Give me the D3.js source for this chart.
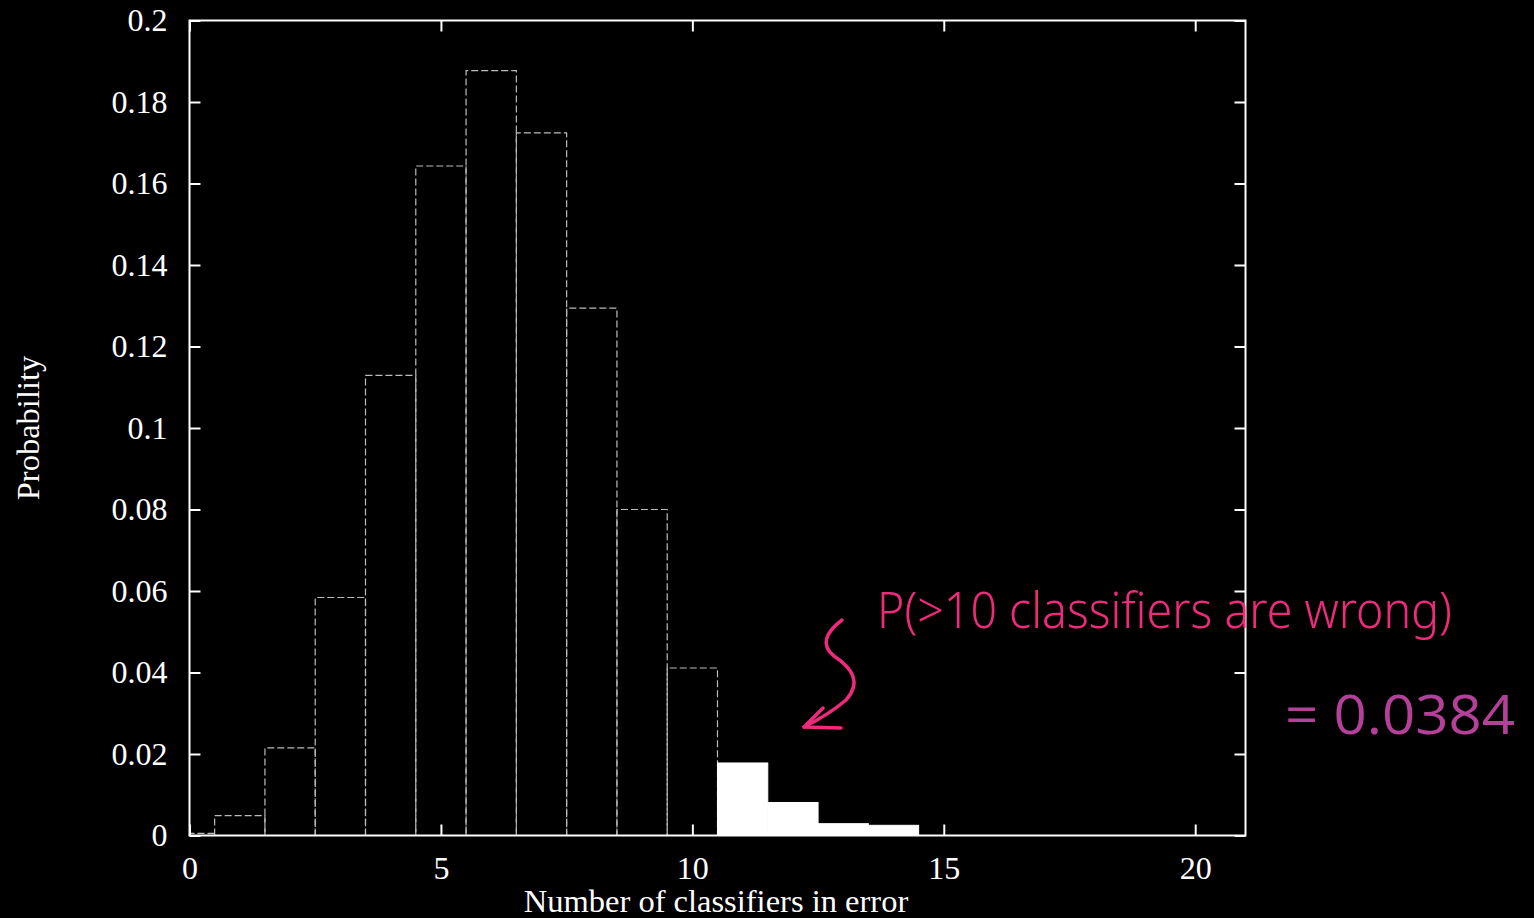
<!DOCTYPE html>
<html><head><meta charset="utf-8">
<script src="https://cdn.jsdelivr.net/npm/d3@7"></script>
<style>html,body{margin:0;padding:0;background:#000;}svg{display:block;}</style>
</head><body>
<script>
const counts = [0,1,2,3,4,5,6,7,8,9,10,11,12,13,14];
const probs = [0.0005,0.0049,0.0215,0.0584,0.1129,0.1643,0.1877,0.1724,0.1294,0.0800,0.0411,0.0178,0.0081,0.0029,0.0025];
const highlightFrom = 11;
const xTicks = [0,5,10,15,20];
const yTicks = [0,0.02,0.04,0.06,0.08,0.1,0.12,0.14,0.16,0.18,0.2];
const annotationText = "P(>10 classifiers are wrong)";
const resultText = "= 0.0384";

const W = 1534, H = 918;
const svg = d3.select("body").append("svg").attr("width", W).attr("height", H).style("background","#000");
const L = 189.5, R = 1245.5, T = 20.5, B = 835.5;
const x = d3.scaleLinear().domain([0,21]).range([L,R]);
const y = d3.scaleLinear().domain([0,0.2]).range([B,T]);

// bars
const bars = svg.append("g");
counts.forEach((c,i)=>{
  const x0 = x(Math.max(0,c-0.5)), x1 = x(c+0.5);
  const yt = y(probs[i]);
  if (c >= highlightFrom) {
    bars.append("rect").attr("x",x0).attr("y",yt).attr("width",x1-x0).attr("height",y(0)-yt)
      .attr("fill","#fff").attr("stroke","#fff").attr("stroke-width",1);
  } else {
    bars.append("path")
      .attr("d",`M${x0},${y(0)}V${yt}H${x1}V${y(0)}`)
      .attr("fill","none").attr("stroke","#bbb").attr("stroke-width",1.2)
      .attr("stroke-dasharray","7,3");
  }
});

// frame
const font = "'Liberation Serif','Times New Roman',serif";
svg.append("rect").attr("x",L).attr("y",T).attr("width",R-L).attr("height",B-T)
  .attr("fill","none").attr("stroke","#fff").attr("stroke-width",2);

const axB = svg.append("g").attr("transform",`translate(0,${B})`)
  .call(d3.axisBottom(x).tickValues(xTicks).tickSize(-11).tickPadding(21).tickFormat(d3.format("d")));
const axT = svg.append("g").attr("transform",`translate(0,${T})`)
  .call(d3.axisTop(x).tickValues(xTicks).tickSize(-11).tickFormat(""));
const axL = svg.append("g").attr("transform",`translate(${L},0)`)
  .call(d3.axisLeft(y).tickValues(yTicks).tickSize(-11).tickPadding(22).tickFormat(d=>d===0?"0":String(+d.toFixed(2))));
const axR = svg.append("g").attr("transform",`translate(${R},0)`)
  .call(d3.axisRight(y).tickValues(yTicks).tickSize(-11).tickFormat(""));
[axB,axT,axL,axR].forEach(a=>{
  a.select(".domain").remove();
  a.selectAll(".tick line").attr("stroke","#fff").attr("stroke-width",2);
  a.selectAll(".tick text").attr("fill","#fff").style("font-family",font).style("font-size","32px");
});
axB.selectAll(".tick text").attr("dy","0.71em");

svg.append("text").attr("x",716).attr("y",912).attr("text-anchor","middle")
  .attr("fill","#fff").style("font-family",font).style("font-size","32.5px").text("Number of classifiers in error");
svg.append("text").attr("transform","translate(39,428) rotate(-90)").attr("text-anchor","middle")
  .attr("fill","#fff").style("font-family",font).style("font-size","32.5px").text("Probability");

// annotation
const pink = "#ee2a7b";
svg.append("text").attr("x",877).attr("y",628).attr("fill",pink)
  .attr("textLength",575).attr("lengthAdjust","spacingAndGlyphs")
  .style("font-family","'Noto Sans',sans-serif").style("font-size","50px").style("font-weight","300")
  .text(annotationText);
svg.append("path")
  .attr("d","M842,620 C826,632 820,645 834,656 C852,668 862,682 846,700 C832,712 818,720 804,727")
  .attr("fill","none").attr("stroke",pink).attr("stroke-width",3.5).attr("stroke-linecap","round");
svg.append("path")
  .attr("d","M823,708 L804,727 L841,728")
  .attr("fill","none").attr("stroke",pink).attr("stroke-width",3.5).attr("stroke-linecap","round").attr("stroke-linejoin","round");
svg.append("text").attr("x",1285).attr("y",734).attr("fill","#b5409a")
  .attr("textLength",230).attr("lengthAdjust","spacingAndGlyphs")
  .style("font-family","'Open Sans','Noto Sans',sans-serif").style("font-size","55px")
  .text(resultText);
</script>
</body></html>
